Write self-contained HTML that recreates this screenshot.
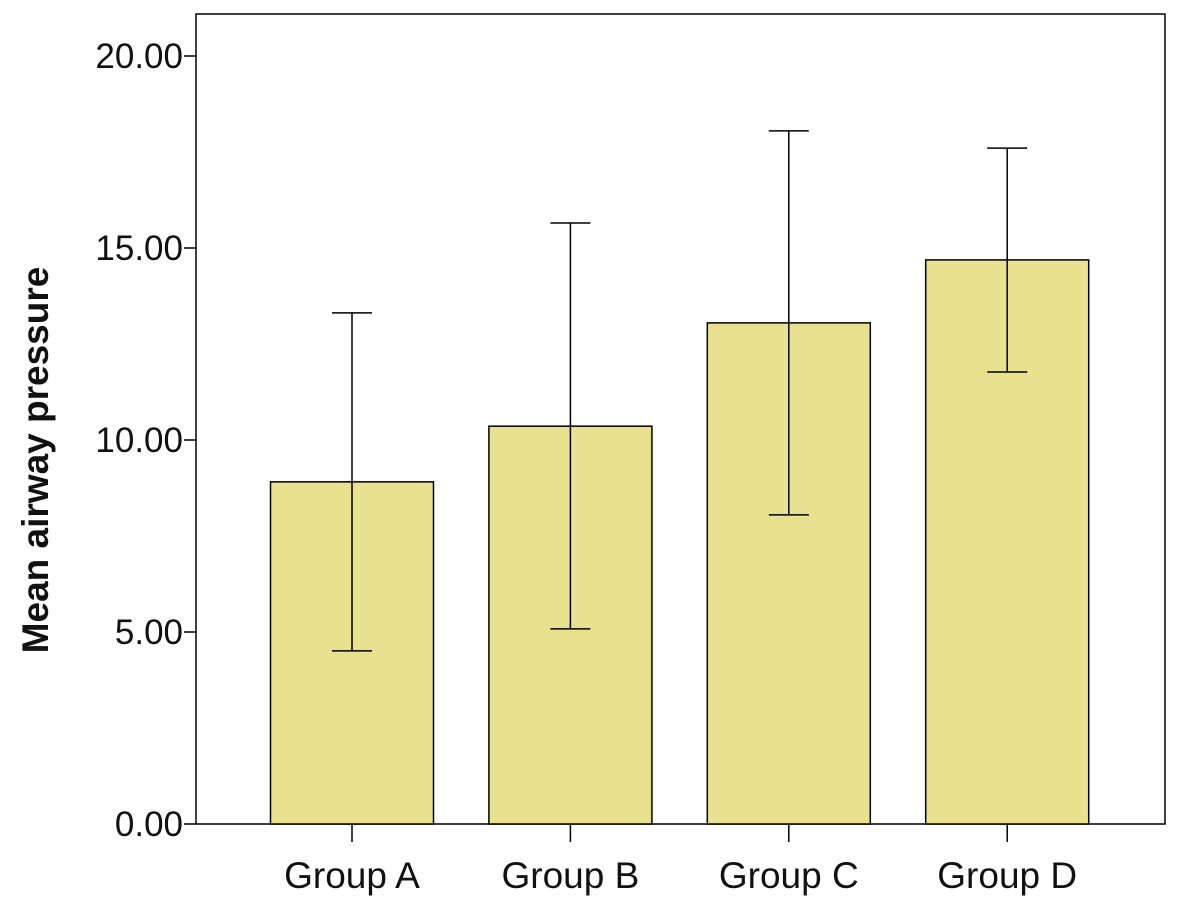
<!DOCTYPE html>
<html><head><meta charset="utf-8"><style>
html,body{margin:0;padding:0;background:#fff;}
svg{display:block;font-family:"Liberation Sans",Arial,sans-serif;}
</style></head><body>
<svg id="chart" width="1181" height="909"></svg>
<script>
const categories=["Group A","Group B","Group C","Group D"];
const means=[8.91,10.36,13.05,14.69];
const errLow=[4.51,5.08,8.05,11.77];
const errHigh=[13.31,15.65,18.05,17.6];
const yTicks=[0,5,10,15,20];
const yTickLabels=["0.00","5.00","10.00","15.00","20.00"];

const NS="http://www.w3.org/2000/svg";
const svg=document.getElementById('chart');
const L=196,R=1165,T=14,B=824;
const y=v=>B-v*38.4;
const x=i=>352+i*218.4;
const bw=163,cap=20;
function mk(tag,attrs,parent){const e=document.createElementNS(NS,tag);for(const k in attrs)e.setAttribute(k,attrs[k]);(parent||svg).appendChild(e);return e;}

const frame=mk('rect',{x:L,y:T,width:R-L,height:B-T,fill:'none',stroke:'#000','stroke-width':1.5});



yTicks.forEach((v,i)=>{
  const t=mk('line',{x1:L-12,x2:L,y1:y(v),y2:y(v),stroke:'#000','stroke-width':1.5});
  
  
  const tx=mk('text',{x:L-13,y:y(v)+12,'text-anchor':'end','font-size':35,fill:'#111'});
  tx.textContent=yTickLabels[i];
  
  
});

categories.forEach((c,i)=>{
  const cx=x(i);
  const r=mk('rect',{x:cx-bw/2,y:y(means[i]),width:bw,height:B-y(means[i]),fill:'#e8e290',stroke:'#000','stroke-width':1.5});
  
  
  const g=mk('g',{stroke:'#000','stroke-width':1.5});
  
  
  mk('line',{x1:cx,x2:cx,y1:y(errLow[i]),y2:y(errHigh[i])},g);
  mk('line',{x1:cx-cap,x2:cx+cap,y1:y(errLow[i]),y2:y(errLow[i])},g);
  mk('line',{x1:cx-cap,x2:cx+cap,y1:y(errHigh[i]),y2:y(errHigh[i])},g);
  const t=mk('line',{x1:cx,x2:cx,y1:B,y2:B+18,stroke:'#000','stroke-width':1.5});
  
  
  const tx=mk('text',{x:cx,y:888,'text-anchor':'middle','font-size':37,fill:'#111'});
  tx.textContent=c;
  
  
});

const yt=mk('text',{x:0,y:0,transform:'translate(48,460) rotate(-90)','text-anchor':'middle','font-size':37,'font-weight':'bold',fill:'#111'});
yt.textContent='Mean airway pressure';


</script>
</body></html>
